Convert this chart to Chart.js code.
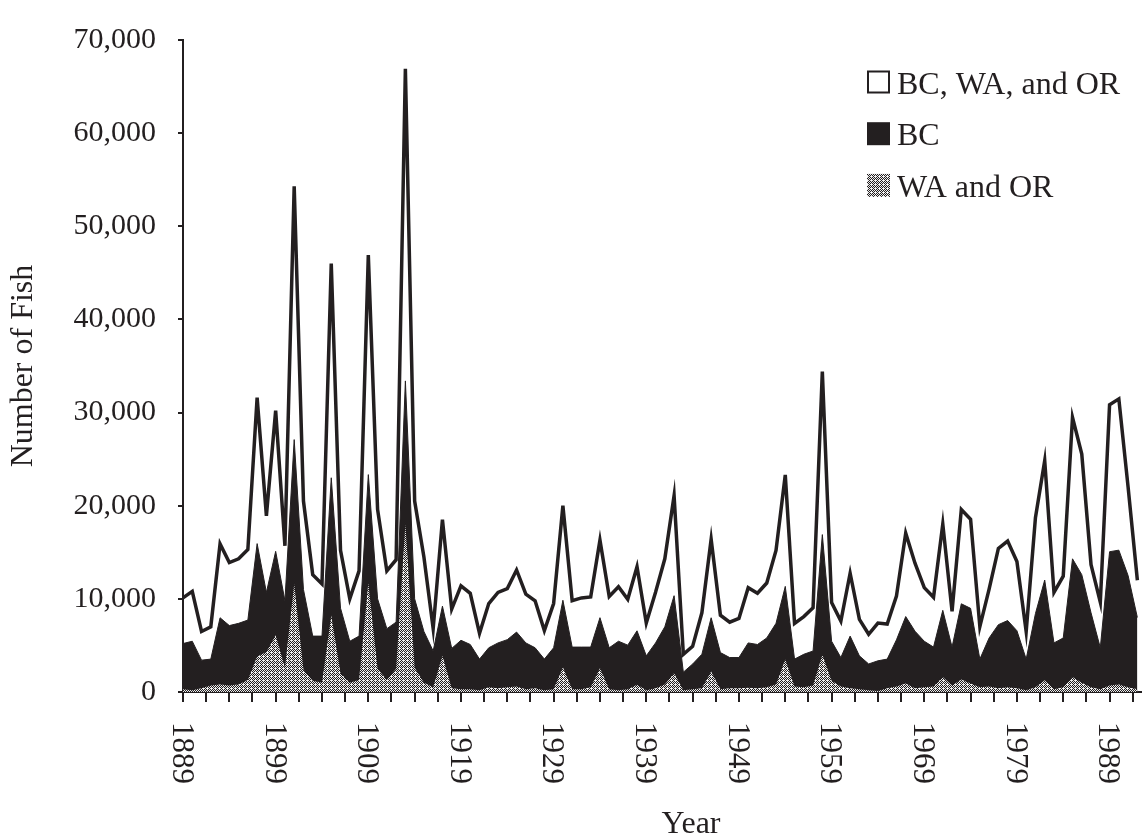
<!DOCTYPE html>
<html>
<head>
<meta charset="utf-8">
<title>Number of Fish by Year</title>
<script src="https://cdn.jsdelivr.net/npm/chart.js@4.4.1/dist/chart.umd.min.js"></script>
<style>
    html, body { margin: 0; padding: 0; background: #fff; }
    #fishChart { display: block; }
</style>
</head>
<body>
<canvas id="fishChart" width="1142" height="839"></canvas>
<script>
// Years on the x axis (one point per year)
const years = [
    1889, 1890, 1891, 1892, 1893, 1894, 1895, 1896, 1897, 1898,
    1899, 1900, 1901, 1902, 1903, 1904, 1905, 1906, 1907, 1908,
    1909, 1910, 1911, 1912, 1913, 1914, 1915, 1916, 1917, 1918,
    1919, 1920, 1921, 1922, 1923, 1924, 1925, 1926, 1927, 1928,
    1929, 1930, 1931, 1932, 1933, 1934, 1935, 1936, 1937, 1938,
    1939, 1940, 1941, 1942, 1943, 1944, 1945, 1946, 1947, 1948,
    1949, 1950, 1951, 1952, 1953, 1954, 1955, 1956, 1957, 1958,
    1959, 1960, 1961, 1962, 1963, 1964, 1965, 1966, 1967, 1968,
    1969, 1970, 1971, 1972, 1973, 1974, 1975, 1976, 1977, 1978,
    1979, 1980, 1981, 1982, 1983, 1984, 1985, 1986, 1987, 1988,
    1989, 1990, 1991, 1992
];

// BC, WA, and OR (total)
const totalFish = [
    10100, 10800, 6500, 7000, 15900, 13900, 14300, 15300, 31600, 18900,
    30200, 15700, 54300, 20500, 12600, 11600, 46000, 15200, 10000, 13000,
    46900, 19600, 13000, 14200, 66900, 20500, 14500, 6800, 18500, 8900,
    11400, 10600, 6300, 9500, 10700, 11100, 13100, 10500, 9800, 6600,
    9500, 20000, 9800, 10100, 10200, 16300, 10250, 11300, 9950, 13450,
    7400, 10700, 14300, 21070, 4050, 4900, 8500, 16400, 8240, 7500,
    7900, 11200, 10600, 11700, 15200, 23300, 7370, 8100, 9050, 34400,
    9600, 7620, 12750, 7800, 6200, 7400, 7300, 10300, 17050, 13830,
    11210, 10170, 18030, 8660, 19600, 18550, 7020, 11040, 15410, 16210,
    14010, 6500, 18720, 24840, 10690, 12440, 29480, 25540, 13660, 9640,
    30850, 31470, 22000, 12000
];

// BC
const bcFish = [
    5200, 5450, 3420, 3530, 7970, 7130, 7370, 7720, 15930, 10690,
    15100, 9800, 27100, 11000, 6000, 6000, 23000, 9000, 5450, 6000,
    23340, 10000, 6800, 7500, 33400, 10000, 6500, 4400, 9220, 4680,
    5550, 5100, 3530, 4750, 5270, 5620, 6430, 5270, 4750, 3530,
    4750, 9850, 4820, 4820, 4820, 7980, 4750, 5450, 5030, 6570,
    3880, 5270, 7000, 10340, 2130, 3000, 4050, 7970, 4230, 3700,
    3700, 5270, 5100, 5800, 7370, 11340, 3530, 4050, 4400, 16900,
    5450, 3700, 6000, 3880, 3010, 3350, 3530, 5600, 8100, 6530,
    5450, 4820, 8770, 4820, 9470, 8980, 3530, 5800, 7230, 7670,
    6580, 3530, 8420, 12020, 5270, 5800, 14300, 12600, 8500, 4750,
    15060, 15230, 12500, 8000
];

// WA and OR
const waOrFish = [
    300, 200, 400, 700, 800, 700, 800, 1300, 3800, 4300,
    6100, 2600, 11600, 2400, 1200, 1000, 8200, 2000, 1000, 1300,
    11700, 2500, 1300, 2500, 18000, 2600, 1000, 500, 3900, 400,
    300, 300, 200, 500, 400, 500, 600, 300, 400, 200,
    300, 2660, 300, 300, 500, 2550, 300, 200, 300, 770,
    200, 400, 800, 2000, 200, 300, 400, 2200, 300, 400,
    400, 450, 400, 500, 800, 3500, 600, 500, 700, 4000,
    1200, 600, 400, 300, 200, 100, 400, 600, 900, 400,
    500, 600, 1600, 700, 1350, 900, 500, 600, 400, 500,
    400, 200, 500, 1250, 300, 500, 1600, 1000, 500, 300,
    700, 800, 500, 300
];

// Year labels written under the axis
const yearLabels = ['1889', '1899', '1909', '1919', '1929', '1939', '1949', '1959', '1969', '1979', '1989'];

const seriesNames = ['BC, WA, and OR', 'BC', 'WA and OR'];

const ink = '#231f20';
const serif = "'Liberation Serif', 'Times New Roman', serif";

const canvas = document.getElementById('fishChart');
const ctx = canvas.getContext('2d');

// grey stipple used for the WA and OR area
function makeStipple() {
    const tile = document.createElement('canvas');
    tile.width = 4;
    tile.height = 4;
    const g = tile.getContext('2d');
    g.fillStyle = ink;
    g.fillRect(0, 0, 4, 4);
    g.fillStyle = '#eeeeee';
    [[0, 0], [2, 0], [1, 1], [3, 1], [0, 2], [2, 2], [1, 3], [3, 3], [3, 0]].forEach(([x, y]) => {
        g.fillRect(x, y, 1, 1);
    });
    return ctx.createPattern(tile, 'repeat');
}
const stipple = makeStipple();

const toPoints = values => years.map((yr, i) => ({ x: yr, y: values[i] }));

// tick marks every 2.5 years starting at 1889
const firstYear = years[0];
const lastVisibleYear = 1992.5;

// x labels (rotated clockwise), axis title and legend
const extrasPlugin = {
    id: 'extras',
    afterDraw(chart) {
        const c = chart.ctx;
        const xs = chart.scales.x;
        c.save();
        c.fillStyle = ink;
        c.font = `31px ${serif}`;
        c.textAlign = 'left';
        c.textBaseline = 'middle';
        yearLabels.forEach(lbl => {
            const px = xs.getPixelForValue(Number(lbl));
            c.save();
            c.translate(px - 2, 722);
            c.rotate(Math.PI / 2);
            c.fillText(lbl, 0, 0);
            c.restore();
        });

        c.font = `32px ${serif}`;
        c.textAlign = 'center';
        c.textBaseline = 'alphabetic';
        c.fillText('Year', 691, 833);

        // legend
        c.textAlign = 'left';
        chart.data.datasets.forEach((ds, i) => {
            const base = 93.5 + i * 51.7;
            if (i === 0) {
                c.fillStyle = '#fff';
                c.fillRect(868, base - 22, 21, 21);
                c.strokeStyle = ink;
                c.lineWidth = 2;
                c.strokeRect(868, base - 22, 21, 21);
            } else {
                c.fillStyle = ds.backgroundColor;
                c.fillRect(867, base - 23, 23, 23);
            }
            c.fillStyle = ink;
            c.fillText(ds.label, 897, base);
        });
        c.restore();
    }
};

const fishChart = new Chart(ctx, {
    type: 'line',
    data: {
        datasets: [
            {
                label: seriesNames[0],
                data: toPoints(totalFish),
                borderColor: ink,
                backgroundColor: '#fff',
                borderWidth: 3.5,
                fill: false,
                order: 0,
            },
            {
                label: seriesNames[1],
                data: toPoints(bcFish),
                borderColor: ink,
                backgroundColor: ink,
                borderWidth: 1,
                fill: 'origin',
                order: 2,
            },
            {
                label: seriesNames[2],
                data: toPoints(waOrFish),
                borderColor: 'rgba(0,0,0,0)',
                backgroundColor: stipple,
                borderWidth: 1,
                fill: 'origin',
                order: 1,
            },
        ]
    },
    options: {
        responsive: false,
        animation: false,
        devicePixelRatio: 1,
        layout: { padding: { top: 24, right: 0, bottom: 0, left: 0 } },
        elements: {
            point: { radius: 0 },
            line: { tension: 0 }
        },
        scales: {
            x: {
                type: 'linear',
                min: firstYear,
                max: lastVisibleYear,
                afterBuildTicks: scale => {
                    const ticks = [];
                    for (let v = firstYear; v <= lastVisibleYear; v += 2.5) ticks.push({ value: v });
                    scale.ticks = ticks;
                },
                afterFit: scale => { scale.height = 147; },
                ticks: { display: false },
                grid: {
                    drawOnChartArea: false,
                    drawTicks: true,
                    tickLength: 10,
                    color: ink,
                    lineWidth: 2
                },
                border: { display: true, color: ink, width: 2 }
            },
            y: {
                min: 0,
                max: 70000,
                afterFit: scale => { scale.width = 183; },
                ticks: {
                    stepSize: 10000,
                    color: ink,
                    padding: 22,
                    font: { family: serif, size: 30 },
                    callback: value => value.toLocaleString('en-US')
                },
                grid: {
                    drawOnChartArea: false,
                    drawTicks: true,
                    tickLength: 5,
                    color: ink,
                    lineWidth: 2
                },
                border: { display: true, color: ink, width: 2 },
                title: {
                    display: true,
                    text: 'Number of Fish',
                    color: ink,
                    font: { family: serif, size: 32 }
                }
            }
        },
        plugins: {
            legend: { display: false },
            tooltip: { enabled: false }
        }
    },
    plugins: [extrasPlugin]
});
</script>
</body>
</html>
